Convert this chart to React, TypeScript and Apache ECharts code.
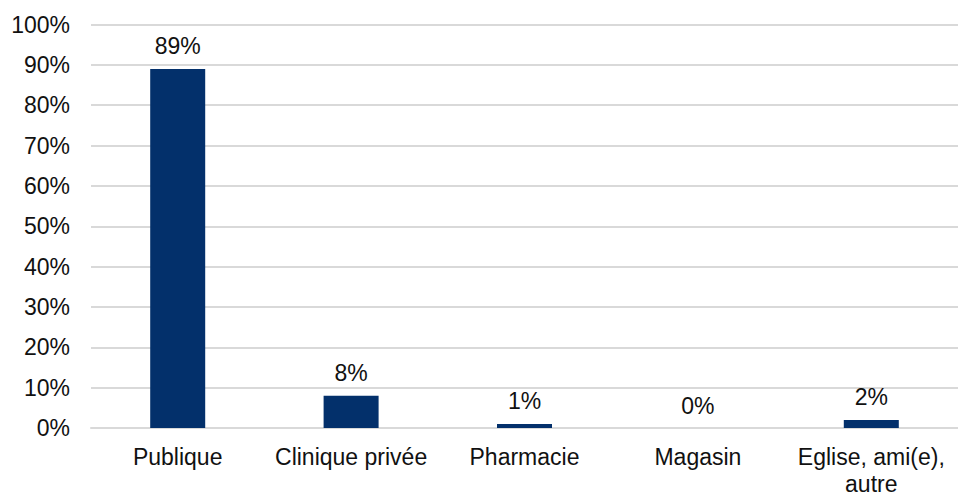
import React, { useEffect, useRef } from "react";
import * as echarts from "echarts";

// Where people went for care, share of respondents (%)
const categories = ["Publique", "Clinique privée", "Pharmacie", "Magasin", "Eglise, ami(e),\nautre"];
const shares = [89, 8, 1, 0, 2];
const yTicks = { min: 0, max: 100, interval: 10 };

const FONT = "'Liberation Sans', Arial, sans-serif";

export default function App() {
  const ref = useRef<HTMLDivElement>(null);

  useEffect(() => {
    if (!ref.current) return;
    const chart = echarts.init(ref.current, undefined, { renderer: "svg" });
    chart.setOption({
      animation: false,
      backgroundColor: "#ffffff",
      // plot runs slightly past the right edge so the last column is cut by the frame
      grid: { left: 91, width: 876, top: 24.5, height: 407 },
      xAxis: {
        type: "category",
        data: categories,
        axisLine: { show: true, lineStyle: { color: "#d9d9d9", width: 2 } },
        axisTick: { show: false },
        axisLabel: {
          color: "#111111",
          fontFamily: FONT,
          fontSize: 23,
          lineHeight: 27,
          margin: 15,
          interval: 0,
        },
      },
      yAxis: {
        type: "value",
        min: yTicks.min,
        max: yTicks.max,
        interval: yTicks.interval,
        axisLine: { show: false },
        axisTick: { show: false },
        splitLine: { lineStyle: { color: "#d9d9d9", width: 2 } },
        axisLabel: {
          color: "#111111",
          fontFamily: FONT,
          fontSize: 23,
          margin: 21,
          formatter: (v: number) => `${v}%`,
        },
      },
      series: [
        {
          type: "bar",
          data: shares,
          barWidth: 55,
          itemStyle: { color: "#03306b" },
          label: {
            show: true,
            position: "top",
            distance: 11,
            color: "#111111",
            fontFamily: FONT,
            fontSize: 23,
            formatter: (p: any) => `${p.value}%`,
          },
        },
      ],
    });
    return () => chart.dispose();
  }, []);

  return <div ref={ref} style={{ width: 958, height: 497, position: "absolute", left: 0, top: 0 }} />;
}
